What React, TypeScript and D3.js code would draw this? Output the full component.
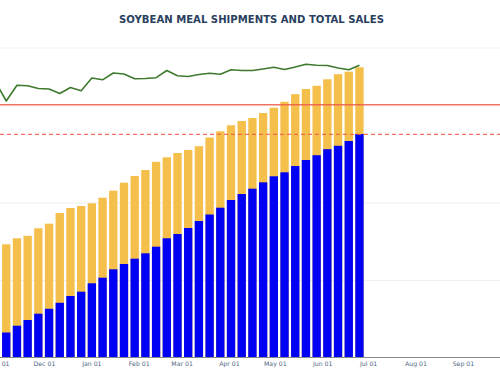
import React from "react";
import * as d3 from "d3";

// Weekly report dates (marketing year 2022/23)
const firstWeek = "2022-11-06";
const weekCount = 34;

// Accumulated exports (shipments), thousand metric tons
const shipments = [
  987, 1250, 1471, 1715, 1905, 2137, 2400, 2567, 2892, 3108, 3434, 3639,
  3844, 4053, 4309, 4634, 4800, 5032, 5303, 5555, 5818, 6116, 6348, 6554,
  6801, 7034, 7188, 7432, 7665, 7850, 8083, 8214, 8400, 8671,
];

// Total commitments (shipments + outstanding sales), thousand metric tons
const totalSales = [
  4401, 4634, 4730, 5021, 5199, 5613, 5807, 5884, 5989, 6205, 6476, 6786,
  7045, 7277, 7595, 7769, 7936, 8052, 8199, 8536, 8776, 9008, 9174, 9290,
  9484, 9689, 9918, 10212, 10413, 10537, 10789, 10986, 11083, 11253,
];

// Comparison line, one week earlier start
const priorLine = [
  10684, 9948, 10556, 10541, 10432, 10413, 10239, 10471, 10347, 10839, 10769,
  11032, 10994, 10808, 10820, 10851, 11129, 10924, 10897, 10974, 11025, 10986,
  11160, 11129, 11129, 11187, 11253, 11168, 11265, 11373, 11334, 11323, 11226,
  11160, 11334,
];

const projectionLevel = 9806;
const shipmentTarget = 8660;

// Horizontal gridlines
const gridValues = [3000, 6000, 12000];
const xTickMonths = [
  "2022-11-01", "2022-12-01", "2023-01-01", "2023-02-01", "2023-03-01",
  "2023-04-01", "2023-05-01", "2023-06-01", "2023-07-01", "2023-08-01",
  "2023-09-01",
];

const title = "SOYBEAN MEAL SHIPMENTS AND TOTAL SALES";

const W = 500;
const H = 383;

const parse = d3.utcParse("%Y-%m-%d");

export default function App() {
  const start = parse(firstWeek) as Date;
  const weeks = d3.range(weekCount).map((i) => d3.utcDay.offset(start, 7 * i));
  const lineDates = d3.range(-1, weekCount).map((i) => d3.utcDay.offset(start, 7 * i));

  const x = d3
    .scaleUtc()
    .domain([parse("2022-10-01") as Date, parse("2023-10-01") as Date])
    .range([-48.8, 509.3]);

  const y = d3.scaleLinear().domain([0, 12000]).range([358, 48]);

  const pitch = x(weeks[1]) - x(weeks[0]);
  const bw = pitch * 0.78;

  const line = d3
    .line<number>()
    .x((_, i) => x(lineDates[i]))
    .y((d) => y(d));

  const fmt = d3.utcFormat("%b %d");

  return (
    <div style={{ position: "absolute", left: 0, top: 0 }}>
      <svg width={W} height={H} style={{ display: "block", background: "#fff" }}>
        <text
          x={251.5}
          y={22.5}
          textAnchor="middle"
          fontFamily="'DejaVu Sans', Verdana, sans-serif"
          fontWeight="bold"
          fontSize={10.1}
          fill="#2a3f5f"
        >
          {title}
        </text>

        {gridValues.map((t) => (
          <line key={t} x1={0} x2={W} y1={y(t)} y2={y(t)} stroke="#efefef" strokeWidth={1} />
        ))}

        {weeks.map((d, i) => (
          <rect
            key={"t" + i}
            x={x(d) - bw / 2}
            y={y(totalSales[i])}
            width={bw}
            height={y(0) - y(totalSales[i])}
            fill="#f5bf4b"
          />
        ))}
        {weeks.map((d, i) => (
          <rect
            key={"s" + i}
            x={x(d) - bw / 2}
            y={y(shipments[i])}
            width={bw}
            height={y(0) - y(shipments[i])}
            fill="#0000f5"
          />
        ))}

        <line x1={0} x2={W} y1={y(projectionLevel)} y2={y(projectionLevel)} stroke="#ef5a4b" strokeOpacity={0.85} strokeWidth={1.5} />
        <line x1={0} x2={W} y1={y(shipmentTarget)} y2={y(shipmentTarget)} stroke="#ef5a4b" strokeOpacity={0.85} strokeWidth={1.2} strokeDasharray="4,3" />

        <path d={line(priorLine) ?? ""} fill="none" stroke="#3e7a2e" strokeWidth={1.6} strokeLinejoin="round" />

        <line x1={0} x2={W} y1={y(0) - 0.5} y2={y(0) - 0.5} stroke="#8a8a8a" strokeWidth={1} />

        {xTickMonths.map((m) => {
          const d = parse(m) as Date;
          return (
            <text
              key={m}
              x={x(d)}
              y={366}
              textAnchor="middle"
              fontFamily="'DejaVu Sans', Verdana, sans-serif"
              fontSize={6.2}
              fill="#506784"
            >
              {fmt(d)}
            </text>
          );
        })}
      </svg>
    </div>
  );
}
